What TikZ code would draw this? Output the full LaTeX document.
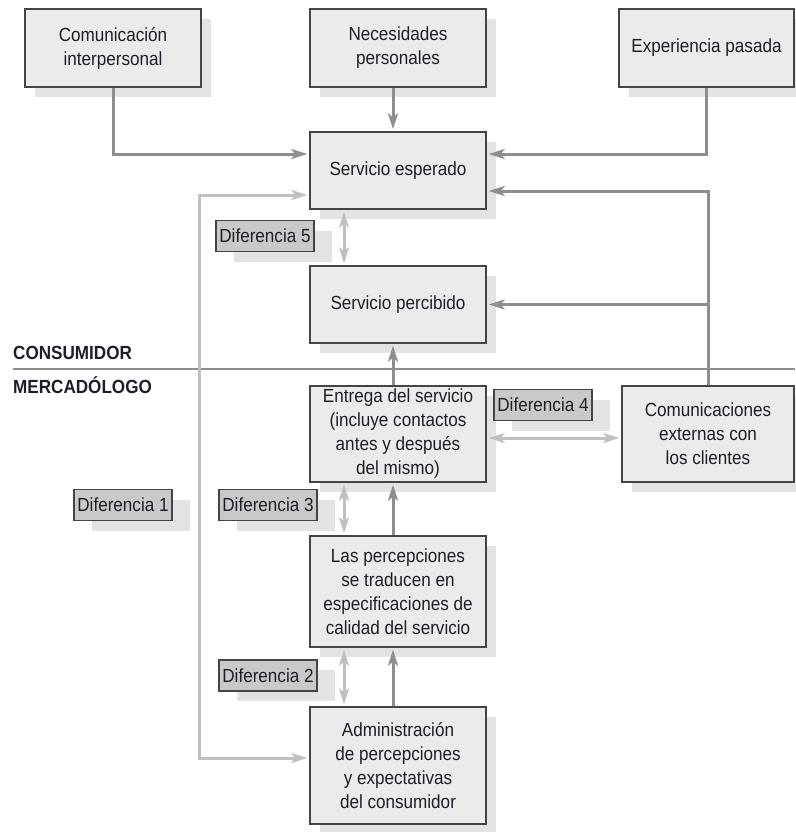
\documentclass[tikz,border=0pt]{standalone}
\usepackage{fontspec}
\setmainfont{Liberation Sans}[FakeStretch=0.9]
\usetikzlibrary{arrows.meta,shadows}
\definecolor{boxfill}{HTML}{EBEBEB}
\definecolor{boxline}{HTML}{444444}
\definecolor{shade}{HTML}{E3E3E3}
\definecolor{gapfill}{HTML}{C9C9C9}
\definecolor{darkline}{HTML}{8E8E8E}
\definecolor{lightline}{HTML}{C0C0C0}
\definecolor{ink}{HTML}{1E1E28}
\newcommand\boxfont{\fontsize{19pt}{24pt}\selectfont}
\begin{document}
\begin{tikzpicture}[x=1pt,y=-1pt,
  box/.style={draw=boxline, line width=1.4pt, fill=boxfill,
    general shadow={fill=shade, shadow xshift=10pt, shadow yshift=-10pt},
    minimum width=176pt, inner sep=0pt, align=center, font=\boxfont, text=ink},
  gapbox/.style={draw=boxline, line width=1.4pt, fill=gapfill,
    general shadow={fill=shade, shadow xshift=18pt, shadow yshift=-10pt},
    minimum width=98pt, minimum height=31pt, inner sep=0pt, font=\boxfont, text=ink},
  head/.tip={Stealth[length=16pt,width=10pt,inset=4pt]},
  darr/.style={draw=darkline, line width=3pt, -head, shorten >=2pt},
  larr/.style={draw=lightline, line width=3pt, head-head, shorten >=2pt, shorten <=2pt},
  side/.style={font=\fontsize{19pt}{24pt}\selectfont\bfseries, text=ink, anchor=base west, inner sep=0pt}]
\useasboundingbox (0,0) rectangle (795,832);

% consumer / marketer divider
\draw[darkline, line width=1.5pt] (13,369) -- (795,369);
\node[side] (cons) at (13,359) {CONSUMIDOR};
\node[side] (merc) at (13,393) {MERCADÓLOGO};

% boxes
\node[box, minimum height=78pt] (ci) at (113,48) {Comunicación\\interpersonal};
\node[box, minimum height=78pt] (np) at (398,48) {Necesidades\\personales};
\node[box, minimum height=78pt, minimum width=175pt] (ep) at (706.5,48) {Experiencia pasada};
\node[box, minimum height=77pt] (se) at (398,170.5) {Servicio esperado};
\node[box, minimum height=77pt] (sp) at (398,304.5) {Servicio percibido};
\node[box, minimum height=96pt] (en) at (398,434) {Entrega del servicio\\(incluye contactos\\antes y después\\del mismo)};
\node[box, minimum height=96pt, minimum width=172pt] (ce) at (708,434) {Comunicaciones\\externas con\\los clientes};
\node[box, minimum height=111pt] (lp) at (398,591.5) {Las percepciones\\se traducen en\\especificaciones de\\calidad del servicio};
\node[box, minimum height=117pt] (ad) at (398,765.5) {Administración\\de percepciones\\y expectativas\\del consumidor};

% gap labels
\node[gapbox] (d5) at (265,236) {Diferencia 5};
\node[gapbox] (d1) at (123,505) {Diferencia 1};
\node[gapbox] (d3) at (268,505) {Diferencia 3};
\node[gapbox] (d4) at (543,405) {Diferencia 4};
\node[gapbox] (d2) at (268,675.5) {Diferencia 2};

% influences on the expected service
\draw[darr] (ci.south) |- ([yshift=16.5pt]se.west);
\draw[darr] ([xshift=-5pt]np.south) -- ([xshift=-5pt]se.north);
\draw[darr] (ep.south) |- ([yshift=16.5pt]se.east);
\draw[darr] (ce.north) |- ([yshift=-20.5pt]se.east);
\draw[darr] (sp.east -| ce.north) -- (sp.east);

% service chain
\draw[darr] ([xshift=-5pt]en.north) -- ([xshift=-5pt]sp.south);
\draw[darr] ([xshift=-5pt]lp.north) -- ([xshift=-5pt]en.south);
\draw[darr] ([xshift=-5pt]ad.north) -- ([xshift=-5pt]lp.south);

% gaps
\draw[larr] ([xshift=-54pt]se.south) -- ([xshift=-54pt]sp.north);
\draw[larr] ([xshift=-54pt]en.south) -- ([xshift=-54pt]lp.north);
\draw[larr] ([xshift=-54pt]lp.south) -- ([xshift=-54pt]ad.north);
\draw[larr] ([yshift=-4pt]en.east) -- ([yshift=-4pt]ce.west);
\coordinate (gx) at (199,0);
\coordinate (g1a) at ([yshift=-24.5pt]se.west);
\coordinate (g1b) at ([yshift=7.5pt]ad.west);
\draw[larr] (g1a) -| (gx |- g1b) -- (g1b);
\end{tikzpicture}
\end{document}
